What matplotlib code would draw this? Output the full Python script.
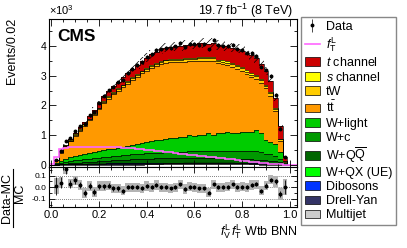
import numpy as np
import matplotlib
matplotlib.use('Agg')
import matplotlib.pyplot as plt
from matplotlib.patches import Patch
from matplotlib.lines import Line2D
from matplotlib.ticker import MultipleLocator, FormatStrFormatter

plt.rcParams['font.family'] = ['Liberation Sans', 'DejaVu Sans']
plt.rcParams['mathtext.fontset'] = 'custom'
plt.rcParams['mathtext.rm'] = 'Liberation Sans'
plt.rcParams['mathtext.it'] = 'Liberation Sans:italic'
plt.rcParams['mathtext.bf'] = 'Liberation Sans:bold'
plt.rcParams['hatch.linewidth'] = 0.5

# BNN output binning, 52 bins of 0.02 (centres 0.00 ... 1.02)
edges = np.linspace(-0.01, 1.03, 53)
centers = 0.5 * (edges[1:] + edges[:-1])

# expected events per bin, in thousands
multijet = [0.0,0.005,0.01,0.01,0.01,0.012,0.012,0.013,0.013,0.014,0.014,0.015,0.015,0.015,0.016,0.016,0.016,0.017,0.017,0.017,0.018,0.018,0.018,0.018,0.019,0.019,0.019,0.019,0.02,0.02,0.02,0.02,0.02,0.02,0.02,0.02,0.02,0.02,0.02,0.02,0.02,0.019,0.019,0.018,0.017,0.015,0.013,0.011,0.008,0.002,0.0,0.0]
drellyan = [0.0,0.004,0.008,0.01,0.012,0.014,0.016,0.018,0.02,0.021,0.022,0.023,0.024,0.025,0.026,0.027,0.028,0.029,0.03,0.03,0.031,0.031,0.032,0.032,0.033,0.033,0.034,0.034,0.034,0.035,0.035,0.035,0.035,0.035,0.035,0.035,0.035,0.034,0.034,0.033,0.033,0.032,0.031,0.03,0.028,0.026,0.024,0.021,0.016,0.004,0.0,0.0]
dibosons = [0.0,0.002,0.004,0.005,0.006,0.007,0.008,0.009,0.01,0.011,0.011,0.012,0.012,0.013,0.013,0.014,0.014,0.015,0.015,0.016,0.016,0.016,0.017,0.017,0.017,0.018,0.018,0.018,0.018,0.019,0.019,0.019,0.019,0.019,0.019,0.019,0.019,0.019,0.019,0.018,0.018,0.018,0.017,0.017,0.016,0.015,0.013,0.011,0.008,0.002,0.0,0.0]
wqx = [0.0,0.002,0.004,0.005,0.006,0.006,0.007,0.007,0.008,0.008,0.008,0.009,0.009,0.009,0.01,0.01,0.01,0.01,0.011,0.011,0.011,0.011,0.012,0.012,0.012,0.012,0.013,0.013,0.013,0.013,0.014,0.014,0.014,0.015,0.016,0.014,0.015,0.018,0.014,0.013,0.013,0.013,0.012,0.012,0.011,0.01,0.009,0.008,0.006,0.002,0.0,0.0]
wqq = [0.0,0.01,0.015,0.02,0.025,0.03,0.038,0.045,0.053,0.06,0.068,0.076,0.084,0.092,0.1,0.107,0.113,0.119,0.125,0.13,0.135,0.139,0.142,0.145,0.147,0.149,0.15,0.151,0.15,0.152,0.149,0.148,0.146,0.15,0.142,0.14,0.138,0.134,0.13,0.127,0.122,0.117,0.112,0.106,0.1,0.092,0.085,0.075,0.055,0.012,0.0,0.0]
wc = [0.0,0.02,0.04,0.06,0.075,0.085,0.095,0.1,0.107,0.113,0.12,0.126,0.132,0.14,0.147,0.155,0.16,0.165,0.17,0.175,0.18,0.185,0.188,0.19,0.195,0.2,0.205,0.21,0.215,0.222,0.225,0.23,0.235,0.245,0.24,0.25,0.255,0.26,0.265,0.27,0.275,0.28,0.29,0.3,0.28,0.22,0.21,0.19,0.12,0.012,0.0,0.0]
wlight = [0.0,0.03,0.06,0.09,0.12,0.145,0.16,0.175,0.19,0.205,0.215,0.23,0.245,0.26,0.275,0.29,0.31,0.325,0.34,0.36,0.375,0.39,0.42,0.43,0.445,0.46,0.475,0.51,0.49,0.53,0.52,0.53,0.545,0.59,0.55,0.6,0.58,0.62,0.6,0.61,0.615,0.62,0.625,0.68,0.62,0.45,0.42,0.38,0.23,0.03,0.0,0.0]
ttbar = [0.015,0.092,0.275,0.43,0.543,0.686,0.819,0.958,1.104,1.248,1.408,1.581,1.707,1.82,1.913,1.998,2.083,2.171,2.26,2.336,2.396,2.459,2.488,2.541,2.565,2.56,2.535,2.502,2.53,2.492,2.499,2.508,2.493,2.421,2.481,2.333,2.317,2.244,2.213,2.142,2.055,1.94,1.834,1.729,1.694,1.747,1.552,1.114,0.37,0.048,0.0,0.0]
tw = [0.0,0.008,0.015,0.02,0.025,0.03,0.034,0.038,0.042,0.045,0.048,0.051,0.054,0.057,0.06,0.062,0.064,0.066,0.068,0.07,0.072,0.074,0.075,0.076,0.077,0.078,0.079,0.08,0.081,0.082,0.083,0.084,0.085,0.086,0.087,0.088,0.089,0.09,0.091,0.092,0.093,0.094,0.094,0.093,0.09,0.085,0.078,0.068,0.045,0.012,0.0,0.0]
schan = [0.0,0.002,0.004,0.006,0.008,0.01,0.011,0.012,0.013,0.015,0.016,0.017,0.018,0.019,0.02,0.021,0.022,0.023,0.024,0.025,0.026,0.027,0.028,0.029,0.03,0.031,0.032,0.033,0.034,0.035,0.036,0.037,0.038,0.039,0.04,0.041,0.042,0.043,0.044,0.045,0.046,0.047,0.046,0.045,0.044,0.04,0.036,0.032,0.022,0.006,0.0,0.0]
tchan = [0.0,0.005,0.015,0.025,0.04,0.055,0.07,0.085,0.1,0.12,0.14,0.16,0.18,0.2,0.22,0.24,0.26,0.28,0.3,0.32,0.34,0.36,0.38,0.39,0.4,0.41,0.42,0.43,0.435,0.44,0.45,0.455,0.46,0.44,0.47,0.48,0.49,0.5,0.51,0.53,0.55,0.58,0.6,0.55,0.5,0.45,0.38,0.34,0.42,0.13,0.01,0.0]
# anomalous f_T^L template
ftl = [0.03,0.28,0.55,0.58,0.6,0.61,0.62,0.62,0.62,0.62,0.615,0.61,0.605,0.6,0.59,0.58,0.57,0.56,0.545,0.53,0.515,0.5,0.485,0.47,0.45,0.42,0.4,0.385,0.365,0.35,0.33,0.31,0.295,0.275,0.26,0.24,0.22,0.205,0.185,0.165,0.15,0.13,0.115,0.095,0.075,0.06,0.045,0.03,0.02,0.01,0.005,0.0]
# relative MC uncertainty
mc_unc = [0.08,0.07,0.05,0.045,0.04,0.04,0.04,0.04,0.04,0.04,0.04,0.04,0.04,0.04,0.04,0.04,0.04,0.04,0.04,0.04,0.04,0.04,0.04,0.04,0.04,0.04,0.04,0.04,0.04,0.04,0.04,0.04,0.04,0.04,0.04,0.04,0.04,0.04,0.04,0.04,0.04,0.04,0.04,0.04,0.04,0.04,0.04,0.045,0.05,0.07,0.08,0.08]

# observed data (bins 0.02 ... 0.98), thousands of events
data_x = [0.02,0.04,0.06,0.08,0.10,0.12,0.14,0.16,0.18,0.20,0.22,0.24,0.26,0.28,0.30,0.32,0.34,0.36,0.38,0.40,0.42,0.44,0.46,0.48,0.50,0.52,0.54,0.56,0.58,0.60,0.62,0.64,0.66,0.68,0.70,0.72,0.74,0.76,0.78,0.80,0.82,0.84,0.86,0.88,0.90,0.92,0.94,0.96,0.98]
data = [0.182,0.468,0.789,0.896,1.145,1.295,1.387,1.677,1.786,2.091,2.323,2.517,2.624,2.772,2.852,3.08,3.22,3.36,3.455,3.636,3.71,3.876,3.88,3.94,3.93,3.98,4.10,3.96,4.06,4.05,4.039,4.049,3.877,4.203,4.02,4.0,4.0,4.039,3.9,3.859,3.76,3.754,3.67,3.298,3.197,3.003,2.363,1.222,0.26]

labels = ['Multijet', 'Drell-Yan', 'Dibosons', 'W+QX (UE)', r'W+Q$\overline{\rm Q}$', 'W+c', 'W+light',
          r't$\bar{\rm t}$', 'tW', r'$s$ channel', r'$t$ channel']
layers = [multijet, drellyan, dibosons, wqx, wqq, wc, wlight, ttbar, tw, schan, tchan]
colors = ['#cccccc', '#333366', '#0033ff', '#00ff00', '#006600', '#009900', '#00cc00',
          '#ff9900', '#ffcc00', '#ffff00', '#cc0000']

fig = plt.figure(figsize=(4.07, 2.48), dpi=100)
W, H = 407.0, 248.0
ax = fig.add_axes([49 / W, 1 - 166.5 / H, 248 / W, 147.5 / H])
rax = fig.add_axes([49 / W, 1 - 207 / H, 248 / W, 40 / H])

base = np.zeros(len(centers))
for vals, col in zip(layers, colors):
    top = base + np.array(vals)
    ax.stairs(top, edges, baseline=base, fill=True, color=col, lw=0)
    ax.stairs(top, edges, baseline=None, color='k', lw=0.5)
    base = top
total = base
unc = np.array(mc_unc)
ax.stairs(total * (1 + unc), edges, baseline=total * (1 - unc), fill=True,
          facecolor='none', edgecolor='k', hatch='////', lw=0)
ax.stairs(ftl, edges, baseline=None, color='#ff66ff', lw=1.2)

data = np.array(data)
derr = np.sqrt(data * 1000) / 1000
dots = ax.errorbar(data_x, data, yerr=derr, fmt='o', ms=1.8, color='k', elinewidth=0.5, capsize=0)

ax.set_xlim(-0.01, 1.03)
ax.set_ylim(-0.05, 4.9)
ax.yaxis.set_major_locator(MultipleLocator(1))
ax.yaxis.set_minor_locator(MultipleLocator(0.5))
ax.xaxis.set_major_locator(MultipleLocator(0.2))
ax.xaxis.set_minor_locator(MultipleLocator(0.05))
ax.tick_params(which='both', direction='in', top=True, right=True, labelbottom=False, labelsize=7.5, pad=2)
ax.tick_params(which='major', length=5, width=0.6)
ax.tick_params(which='minor', length=2.5, width=0.6)
ax.text(0.035, 0.93, 'CMS', transform=ax.transAxes, fontsize=12.5, fontweight='bold', va='top', ha='left')

# ratio panel
idx = np.searchsorted(edges, data_x) - 1
mc = total[idx]
ratio = (data - mc) / mc
rerr = derr / mc
rax.bar(data_x, 2 * unc[idx], bottom=ratio - unc[idx], width=0.02, color='#b4b4b4', lw=0)
rax.errorbar(data_x, ratio, yerr=rerr, fmt='o', ms=1.8, color='k', elinewidth=0.6, capsize=0)
for yv in [-0.1, 0.0, 0.1]:
    rax.axhline(yv, color='#555555', lw=0.6, ls=(0, (1, 1.5)), zorder=0)
rax.set_xlim(-0.01, 1.03)
rax.set_ylim(-0.17, 0.175)
rax.xaxis.set_major_locator(MultipleLocator(0.2))
rax.xaxis.set_minor_locator(MultipleLocator(0.05))
rax.yaxis.set_major_locator(MultipleLocator(0.1))
rax.yaxis.set_minor_locator(MultipleLocator(0.05))
rax.xaxis.set_major_formatter(FormatStrFormatter('%.1f'))
rax.yaxis.set_major_formatter(FormatStrFormatter('%.1f'))
rax.tick_params(which='both', direction='in', top=True, right=True, pad=2)
rax.tick_params(axis='x', labelsize=8)
rax.tick_params(axis='y', labelsize=6)
rax.tick_params(which='major', length=4, width=0.6)
rax.tick_params(which='minor', length=2, width=0.6)
rax.set_xlabel(r'$f_{\rm V}^{\rm L}\,f_{\rm T}^{\rm L}$ Wtb BNN', fontsize=9, ha='right', x=1.0, labelpad=2)

# figure texts
fig.text(12.5 / W, 1 - 18 / H, 'Events/0.02', rotation=90, ha='center', va='top', fontsize=9)
fig.text(49 / W, 1 - 15 / H, r'$\times$10$^{3}$', ha='left', va='baseline', fontsize=8)
fig.text(293 / W, 1 - 15 / H, r'19.7 fb$^{-1}$ (8 TeV)', ha='right', va='baseline', fontsize=9)
fig.text(7 / W, 1 - 198 / H, 'Data-MC', rotation=90, ha='center', va='center', fontsize=9)
fig.text(20 / W, 1 - 193 / H, 'MC', rotation=90, ha='center', va='center', fontsize=9)
fig.add_artist(Line2D([13 / W, 13 / W], [1 - 227 / H, 1 - 169 / H], color='k', lw=0.8))

# legend
handles = [dots, Line2D([], [], color='#ff66ff', lw=1.2)]
leg_labels = ['Data', r'$f_{\rm T}^{\rm L}$']
for lab, col in zip(labels[::-1], colors[::-1]):
    handles.append(Patch(facecolor=col, edgecolor='k', lw=0.5))
    leg_labels.append(lab)
fig.legend(handles, leg_labels, loc='upper left', bbox_to_anchor=(301 / W, 1 - 17 / H),
           fontsize=9, frameon=True, fancybox=False, edgecolor='#888888', framealpha=1,
           handlelength=1.2, handleheight=0.7, handletextpad=0.5, labelspacing=0.17,
           borderpad=0.3, borderaxespad=0)

fig.savefig('out.png', dpi=100)
